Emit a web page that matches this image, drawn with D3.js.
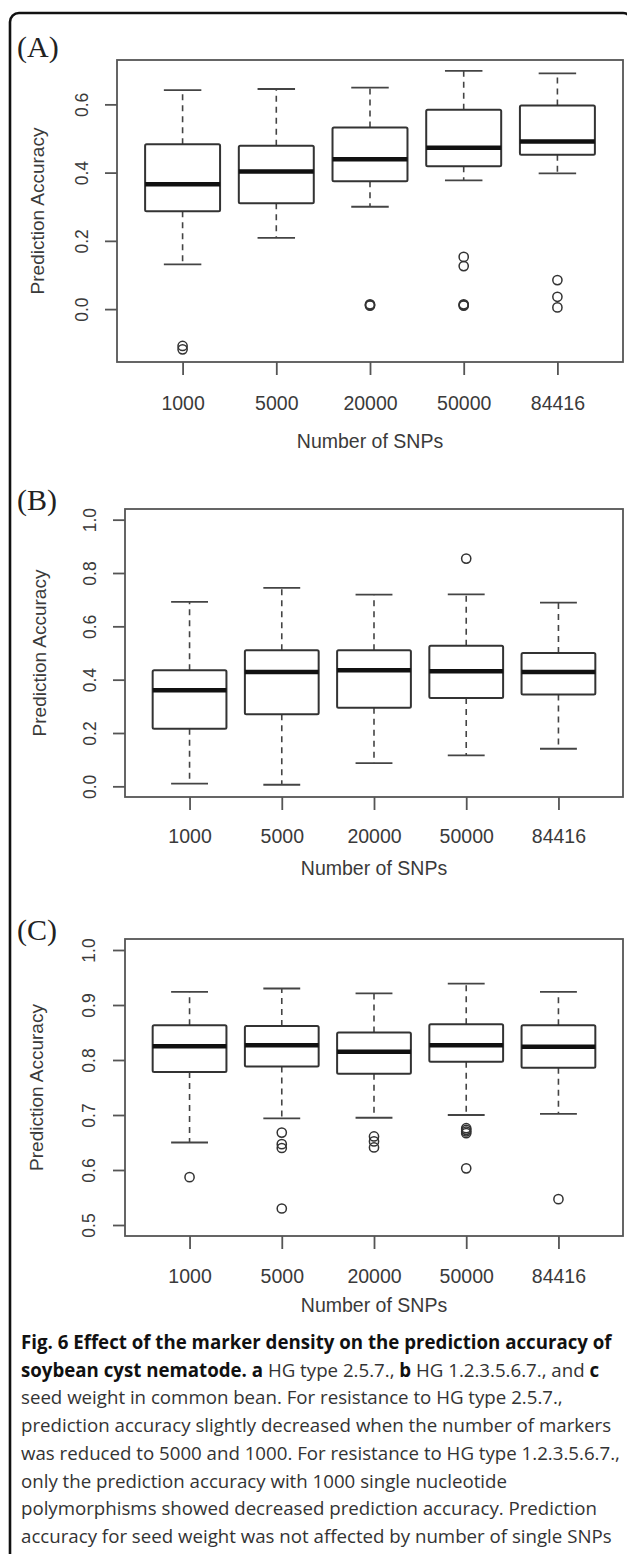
<!DOCTYPE html>
<html>
<head>
<meta charset="utf-8">
<script src="https://cdn.jsdelivr.net/npm/d3@7"></script>
<style>
  body { margin: 0; background: #fff; }
  svg { display: block; }
</style>
</head>
<body>
<div id="chart"></div>
<script>
const width = 627;
const height = 1554;

const categories = ["1000", "5000", "20000", "50000", "84416"];

// [lower whisker, Q1, median, Q3, upper whisker]
const statsA = [
  [0.131, 0.287, 0.366, 0.483, 0.642],
  [0.209, 0.310, 0.403, 0.479, 0.645],
  [0.300, 0.375, 0.439, 0.532, 0.649],
  [0.377, 0.419, 0.473, 0.584, 0.698],
  [0.398, 0.452, 0.491, 0.597, 0.691]
];
const outliersA = [
  [-0.108, -0.118],
  [],
  [0.010, 0.012, 0.014],
  [0.153, 0.126, 0.010, 0.012, 0.014],
  [0.085, 0.036, 0.005]
];

const statsB = [
  [0.010, 0.216, 0.360, 0.435, 0.692],
  [0.006, 0.270, 0.429, 0.510, 0.744],
  [0.087, 0.295, 0.435, 0.510, 0.719],
  [0.116, 0.331, 0.432, 0.527, 0.720],
  [0.141, 0.344, 0.429, 0.500, 0.689]
];
const outliersB = [[], [], [], [0.854], []];

const statsC = [
  [0.650, 0.778, 0.825, 0.863, 0.924],
  [0.694, 0.788, 0.827, 0.862, 0.930],
  [0.695, 0.775, 0.815, 0.850, 0.921],
  [0.700, 0.797, 0.827, 0.865, 0.939],
  [0.702, 0.786, 0.824, 0.863, 0.924]
];
const outliersC = [
  [0.587],
  [0.668, 0.647, 0.640, 0.530],
  [0.661, 0.652, 0.641],
  [0.676, 0.673, 0.670, 0.667, 0.603],
  [0.547]
];

const ticksA = [0.0, 0.2, 0.4, 0.6];
const ticksB = [0.0, 0.2, 0.4, 0.6, 0.8, 1.0];
const ticksC = [0.5, 0.6, 0.7, 0.8, 0.9, 1.0];

const captionLines = [
  [["Fig. 6 Effect of the marker density on the prediction accuracy of", true]],
  [["soybean cyst nematode.", true], [" ", false], ["a", true], [" HG type 2.5.7., ", false], ["b", true], [" HG 1.2.3.5.6.7., and ", false], ["c", true]],
  [["seed weight in common bean. For resistance to HG type 2.5.7.,", false]],
  [["prediction accuracy slightly decreased when the number of markers", false]],
  [["was reduced to 5000 and 1000. For resistance to HG type 1.2.3.5.6.7.,", false]],
  [["only the prediction accuracy with 1000 single nucleotide", false]],
  [["polymorphisms showed decreased prediction accuracy. Prediction", false]],
  [["accuracy for seed weight was not affected by number of single SNPs", false]]
];

// panel layout (pixels)
const panels = [
  { label: "(A)", labelY: 57, stats: statsA, outliers: outliersA, ticks: ticksA,
    domain: [-0.155, 0.730], left: 117, right: 623, top: 60, bottom: 362,
    tickLabelX: 88, titleX: 44, xLabelY: 410, xTitleY: 448 },
  { label: "(B)", labelY: 510, stats: statsB, outliers: outliersB, ticks: ticksB,
    domain: [-0.04, 1.04], left: 125, right: 623, top: 509, bottom: 797,
    tickLabelX: 96, titleX: 46, xLabelY: 843, xTitleY: 875 },
  { label: "(C)", labelY: 940, stats: statsC, outliers: outliersC, ticks: ticksC,
    domain: [0.48, 1.02], left: 125, right: 623, top: 939, bottom: 1236,
    tickLabelX: 95, titleX: 43, xLabelY: 1283, xTitleY: 1312 }
];

const textColor = "#3a3a3a";
const lineColor = "#333";

const svg = d3.select("#chart")
  .append("svg")
  .attr("width", width)
  .attr("height", height);

// outer frame (only top and left edges are visible)
svg.append("rect")
  .attr("x", 10)
  .attr("y", 13)
  .attr("width", 622)
  .attr("height", 1600)
  .attr("rx", 9)
  .attr("fill", "none")
  .attr("stroke", "#111")
  .attr("stroke-width", 2.6);

panels.forEach(p => {
  const g = svg.append("g");

  const x = d3.scaleLinear().domain([0.3, 5.7]).range([p.left, p.right]);
  const y = d3.scaleLinear().domain(p.domain).range([p.bottom, p.top]);
  const bw = x(0.8) - x(0);
  const cw = x(0.4) - x(0);

  g.append("text")
    .attr("x", 17)
    .attr("y", p.labelY)
    .attr("font-family", "'Liberation Serif', 'Times New Roman', serif")
    .attr("font-size", 30)
    .attr("fill", "#222")
    .text(p.label);

  // plot frame
  g.append("rect")
    .attr("x", p.left)
    .attr("y", p.top)
    .attr("width", p.right - p.left)
    .attr("height", p.bottom - p.top)
    .attr("fill", "none")
    .attr("stroke", "#555")
    .attr("stroke-width", 1.8);

  // y axis
  const yAxis = g.append("g")
    .attr("transform", `translate(${p.left},0)`)
    .call(d3.axisLeft(y).tickValues(p.ticks).tickSize(12).tickFormat(d3.format(".1f")));
  yAxis.select(".domain").remove();
  yAxis.selectAll("line").attr("stroke", "#555").attr("stroke-width", 1.8);
  yAxis.selectAll("text")
    .attr("transform", `translate(${p.tickLabelX - p.left},0) rotate(-90)`)
    .attr("x", 0).attr("y", 0).attr("dy", 0)
    .attr("text-anchor", "middle")
    .attr("font-family", "'Liberation Sans', Arial, sans-serif")
    .attr("font-size", 17.5)
    .attr("fill", textColor);

  // x axis
  const xAxis = g.append("g")
    .attr("transform", `translate(0,${p.bottom})`)
    .call(d3.axisBottom(x).tickValues([1, 2, 3, 4, 5]).tickSize(13).tickFormat((d, i) => categories[i]));
  xAxis.select(".domain").remove();
  xAxis.selectAll("line").attr("stroke", "#555").attr("stroke-width", 1.8);
  xAxis.selectAll("text")
    .attr("y", p.xLabelY - p.bottom).attr("dy", 0)
    .attr("font-family", "'Liberation Sans', Arial, sans-serif")
    .attr("font-size", 19.5)
    .attr("fill", textColor);

  g.append("text")
    .attr("x", (p.left + p.right) / 2)
    .attr("y", p.xTitleY)
    .attr("text-anchor", "middle")
    .attr("font-family", "'Liberation Sans', Arial, sans-serif")
    .attr("font-size", 19.5)
    .attr("fill", textColor)
    .text("Number of SNPs");

  g.append("text")
    .attr("transform", `translate(${p.titleX},${(p.top + p.bottom) / 2}) rotate(-90)`)
    .attr("text-anchor", "middle")
    .attr("font-family", "'Liberation Sans', Arial, sans-serif")
    .attr("font-size", 19)
    .attr("fill", textColor)
    .text("Prediction Accuracy");

  // boxes
  const boxes = g.selectAll(".box")
    .data(p.stats)
    .enter()
    .append("g")
    .attr("class", "box");

  boxes.append("line")
    .attr("x1", (d, i) => x(i + 1)).attr("x2", (d, i) => x(i + 1))
    .attr("y1", d => y(d[3])).attr("y2", d => y(d[4]))
    .attr("stroke", "#444").attr("stroke-width", 1.6).attr("stroke-dasharray", "6,5");
  boxes.append("line")
    .attr("x1", (d, i) => x(i + 1)).attr("x2", (d, i) => x(i + 1))
    .attr("y1", d => y(d[1])).attr("y2", d => y(d[0]))
    .attr("stroke", "#444").attr("stroke-width", 1.6).attr("stroke-dasharray", "6,5");

  boxes.append("line")
    .attr("x1", (d, i) => x(i + 1) - cw / 2).attr("x2", (d, i) => x(i + 1) + cw / 2)
    .attr("y1", d => y(d[4])).attr("y2", d => y(d[4]))
    .attr("stroke", "#444").attr("stroke-width", 1.8);
  boxes.append("line")
    .attr("x1", (d, i) => x(i + 1) - cw / 2).attr("x2", (d, i) => x(i + 1) + cw / 2)
    .attr("y1", d => y(d[0])).attr("y2", d => y(d[0]))
    .attr("stroke", "#444").attr("stroke-width", 1.8);

  boxes.append("rect")
    .attr("x", (d, i) => x(i + 1) - bw / 2)
    .attr("y", d => y(d[3]))
    .attr("width", bw)
    .attr("height", d => y(d[1]) - y(d[3]))
    .attr("rx", 1.5)
    .attr("fill", "#fff")
    .attr("stroke", lineColor)
    .attr("stroke-width", 2);

  boxes.append("line")
    .attr("x1", (d, i) => x(i + 1) - bw / 2).attr("x2", (d, i) => x(i + 1) + bw / 2)
    .attr("y1", d => y(d[2])).attr("y2", d => y(d[2]))
    .attr("stroke", "#111").attr("stroke-width", 4.5);

  // outliers
  p.outliers.forEach((vals, i) => {
    g.selectAll(null)
      .data(vals)
      .enter()
      .append("circle")
      .attr("cx", x(i + 1))
      .attr("cy", d => y(d))
      .attr("r", 4.6)
      .attr("fill", "none")
      .attr("stroke", "#333")
      .attr("stroke-width", 1.5);
  });
});

// caption
const cap = svg.append("g")
  .attr("font-family", "'Open Sans', 'Noto Sans', sans-serif")
  .attr("fill", "#333");

const capLines = cap.selectAll("text")
  .data(captionLines)
  .enter()
  .append("text")
  .attr("x", 21)
  .attr("y", (d, i) => 1349 + i * 27.7)
  .attr("font-size", 17);

capLines.selectAll("tspan")
  .data(d => d)
  .enter()
  .append("tspan")
  .attr("font-weight", d => d[1] ? "bold" : "normal")
  .attr("fill", d => d[1] ? "#111" : "#333")
  .text(d => d[0]);

// fit font size so the last line spans the measured width
const ref = capLines.filter((d, i) => i === 7).node();
const w = ref.getComputedTextLength();
const fs = 17 * 591 / w;
capLines.attr("font-size", fs);
</script>
</body>
</html>
